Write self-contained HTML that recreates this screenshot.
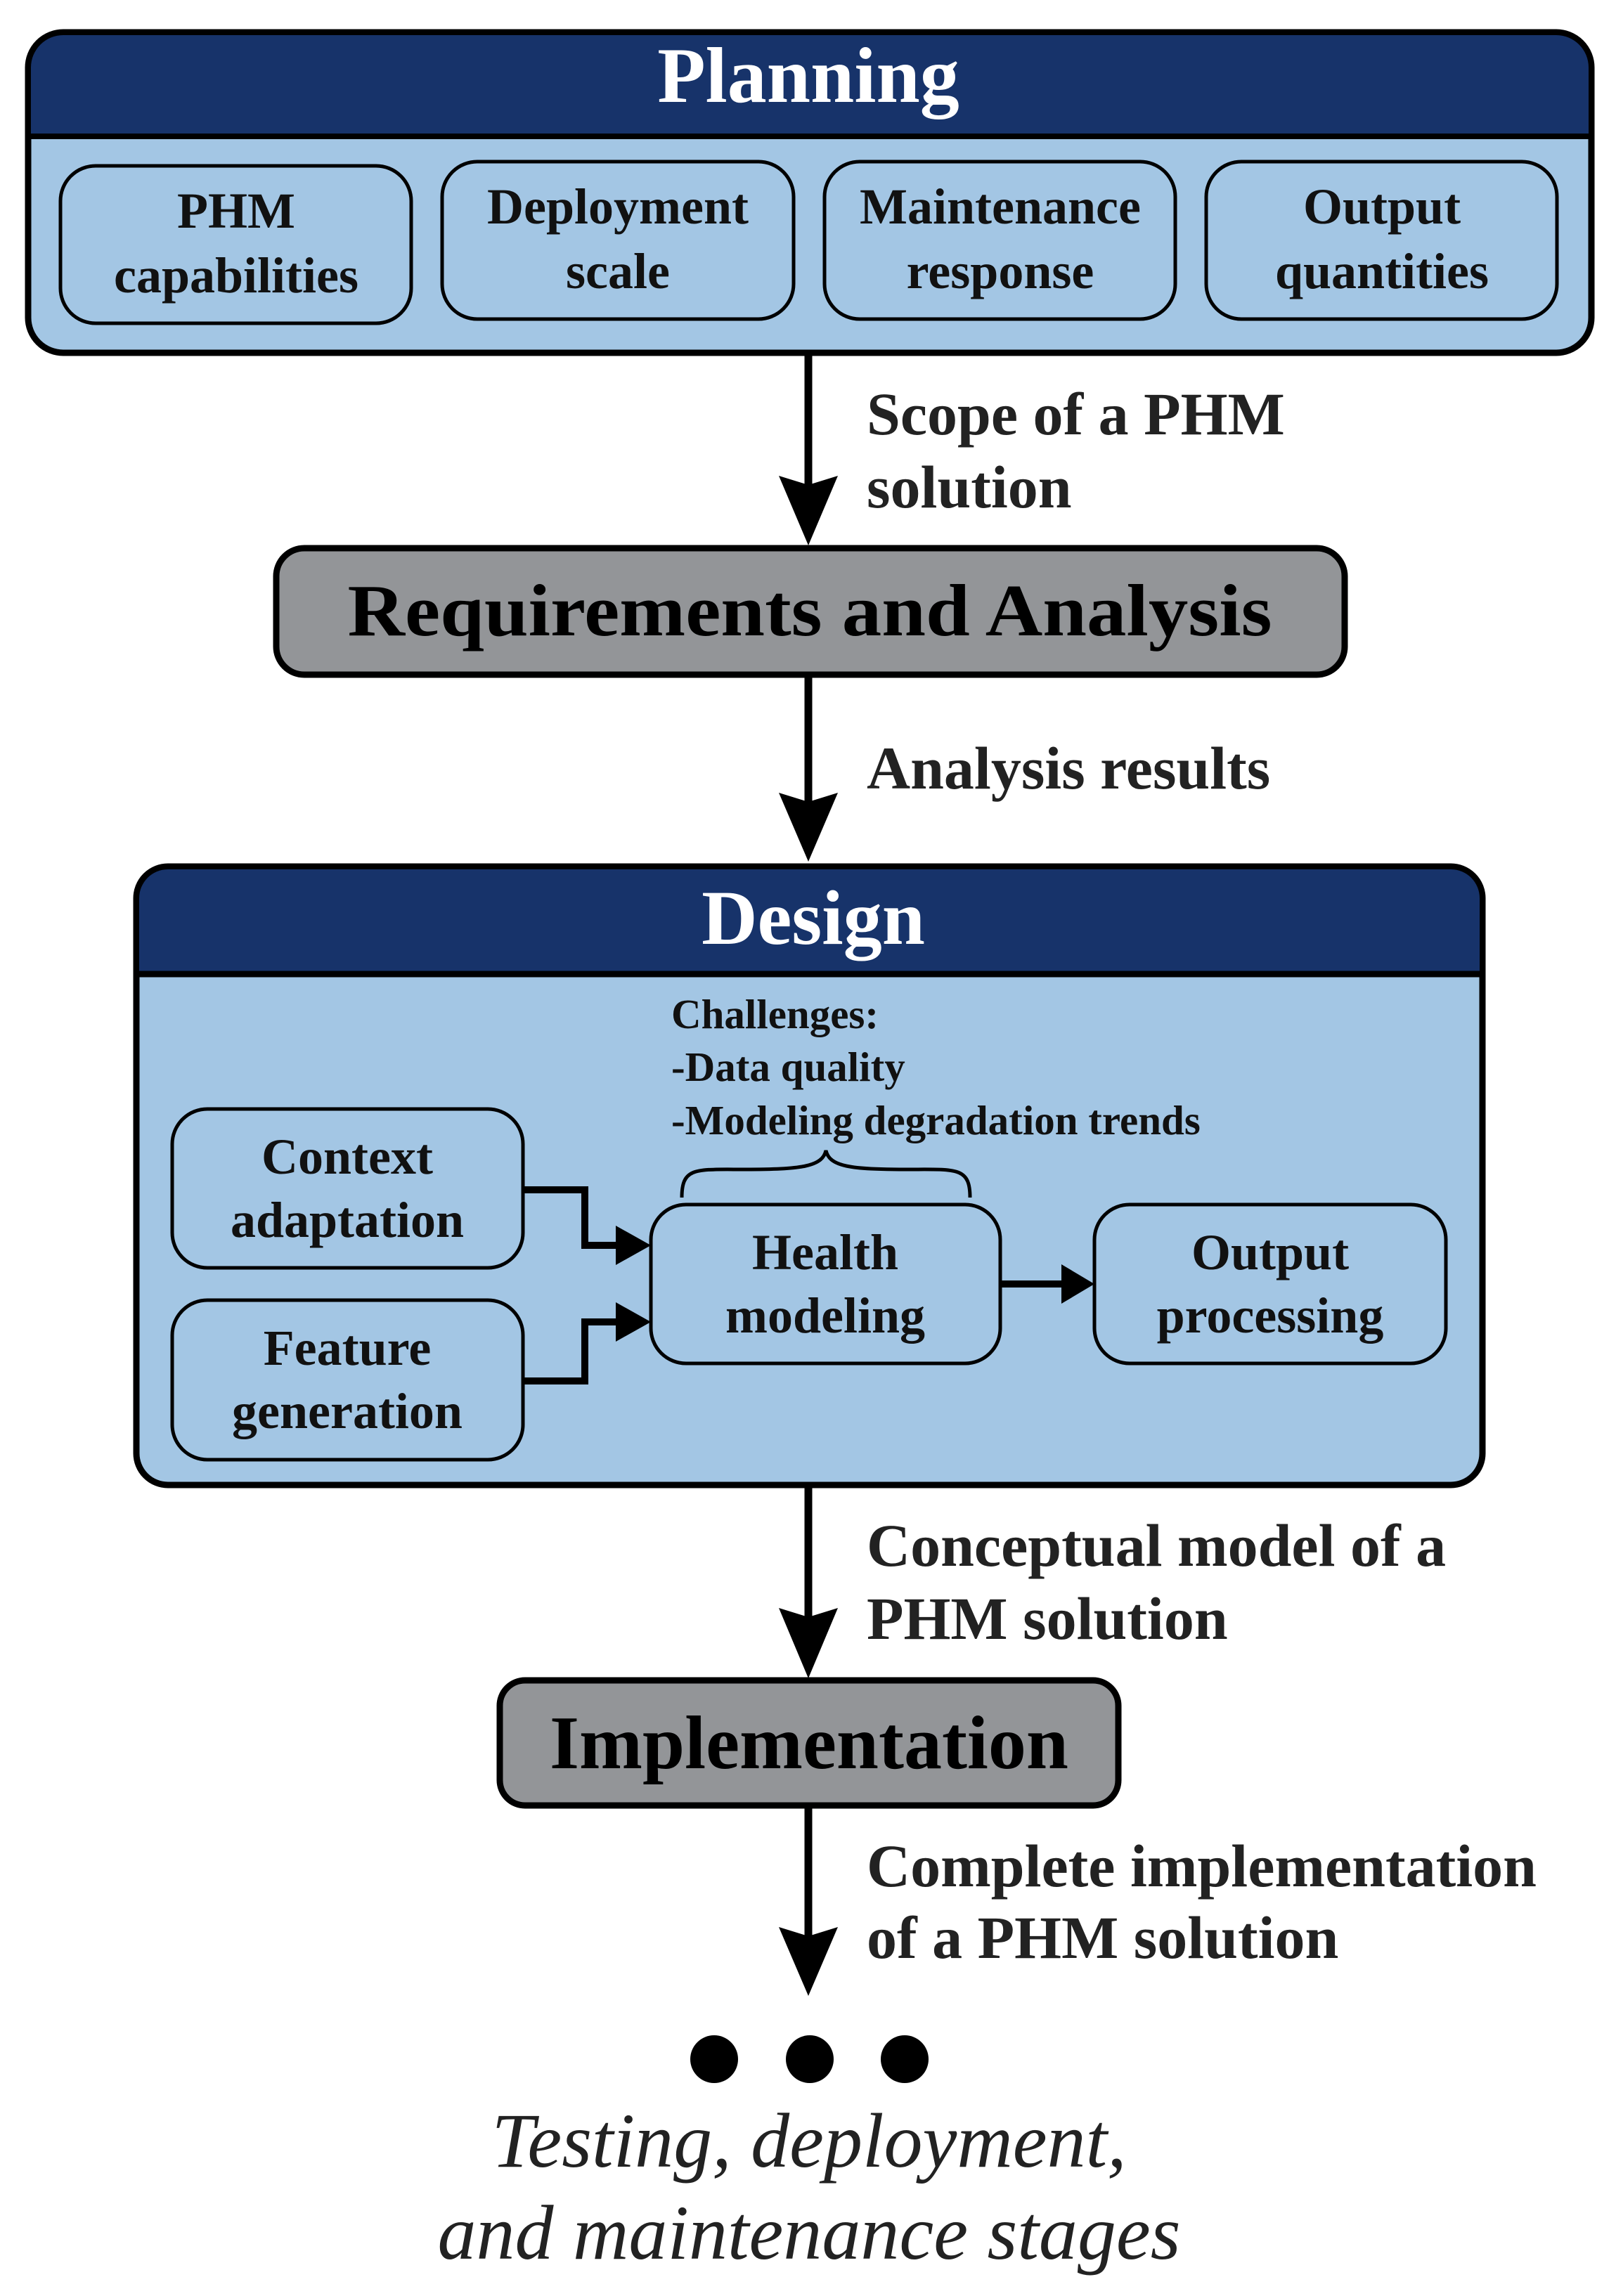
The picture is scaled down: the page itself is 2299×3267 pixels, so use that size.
<!DOCTYPE html>
<html><head><meta charset="utf-8"><style>html,body{margin:0;padding:0;background:#fff}svg{display:block}</style></head>
<body>
<svg width="2299" height="3267" viewBox="0 0 2299 3267" xmlns="http://www.w3.org/2000/svg" font-family="'Liberation Serif', serif" font-weight="bold">
<!-- Planning -->
<rect x="40" y="46" width="2224" height="456" rx="50" fill="#a3c6e4" stroke="#000" stroke-width="9"/>
<path d="M44 192 V96 a46 46 0 0 1 46 -46 H2214 a46 46 0 0 1 46 46 V192 Z" fill="#17336a"/>
<line x1="40" y1="194" x2="2264" y2="194" stroke="#000" stroke-width="8"/>
<text x="1150" y="145" font-size="112" fill="#fff" text-anchor="middle">Planning</text>
<g fill="#a3c6e4" stroke="#000" stroke-width="5">
<rect x="86" y="236" width="499" height="224" rx="50"/>
<rect x="629" y="230" width="500" height="224" rx="50"/>
<rect x="1173" y="230" width="499" height="224" rx="50"/>
<rect x="1716" y="230" width="499" height="224" rx="50"/>
</g>
<g font-size="72" text-anchor="middle" fill="#111">
<text x="336" y="324">PHM</text><text x="336" y="416">capabilities</text>
<text x="879" y="318">Deployment</text><text x="879" y="410">scale</text>
<text x="1423" y="318">Maintenance</text><text x="1423" y="410">response</text>
<text x="1966" y="318">Output</text><text x="1966" y="410">quantities</text>
</g>
<g stroke="#000" stroke-width="11">
<line x1="1150" y1="502" x2="1150" y2="700"/>
<line x1="1150" y1="962" x2="1150" y2="1150"/>
<line x1="1150" y1="2117" x2="1150" y2="2310"/>
<line x1="1150" y1="2571" x2="1150" y2="2765"/>
</g>
<g fill="#000">
<path d="M1108 677 L1150 690 L1192 677 L1150 776 Z"/>
<path d="M1108 1128 L1150 1141 L1192 1128 L1150 1226 Z"/>
<path d="M1108 2288 L1150 2301 L1192 2288 L1150 2388 Z"/>
<path d="M1108 2742 L1150 2755 L1192 2742 L1150 2840 Z"/>
</g>
<g font-size="86" fill="#222">
<text x="1233" y="618">Scope of a PHM</text>
<text x="1233" y="722">solution</text>
<text x="1233" y="1122">Analysis results</text>
<text x="1233" y="2228">Conceptual model of a</text>
<text x="1233" y="2332">PHM solution</text>
<text x="1233" y="2684">Complete implementation</text>
<text x="1233" y="2786">of a PHM solution</text>
</g>
<rect x="393" y="780" width="1520" height="180" rx="40" fill="#939598" stroke="#000" stroke-width="9"/>
<text x="1152" y="904" font-size="105" text-anchor="middle" fill="#000" textLength="1315" lengthAdjust="spacingAndGlyphs">Requirements and Analysis</text>
<!-- Design -->
<rect x="194" y="1233" width="1915" height="880" rx="45" fill="#a3c6e4" stroke="#000" stroke-width="9"/>
<path d="M198 1384 V1278 a41 41 0 0 1 41 -41 H2064 a41 41 0 0 1 41 41 V1384 Z" fill="#17336a"/>
<line x1="194" y1="1386" x2="2109" y2="1386" stroke="#000" stroke-width="9"/>
<text x="1157" y="1343" font-size="110" fill="#fff" text-anchor="middle">Design</text>
<g font-size="59" fill="#111">
<text x="955" y="1463">Challenges:</text>
<text x="955" y="1538">-Data quality</text>
<text x="955" y="1614">-Modeling degradation trends</text>
</g>
<path d="M970 1704 C970 1660 990 1664 1060 1664 C1140 1664 1170 1660 1175 1637 C1180 1660 1210 1664 1290 1664 C1360 1664 1380 1660 1380 1704" fill="none" stroke="#000" stroke-width="5"/>
<g fill="#a3c6e4" stroke="#000" stroke-width="5">
<rect x="245" y="1578" width="499" height="226" rx="50"/>
<rect x="245" y="1850" width="499" height="227" rx="50"/>
<rect x="926" y="1714" width="497" height="226" rx="50"/>
<rect x="1557" y="1714" width="500" height="226" rx="50"/>
</g>
<g fill="none" stroke="#000" stroke-width="10">
<path d="M744 1693 H832 V1772 H885"/>
<path d="M744 1965 H832 V1881 H885"/>
<line x1="1423" y1="1827" x2="1520" y2="1827"/>
</g>
<g fill="#000">
<path d="M876 1744 L926 1772 L876 1800 Z"/>
<path d="M876 1853 L926 1881 L876 1909 Z"/>
<path d="M1510 1799 L1557 1827 L1510 1855 Z"/>
</g>
<g font-size="72" text-anchor="middle" fill="#111">
<text x="494" y="1670">Context</text><text x="494" y="1760">adaptation</text>
<text x="494" y="1942">Feature</text><text x="494" y="2032">generation</text>
<text x="1174" y="1806">Health</text><text x="1174" y="1896">modeling</text>
<text x="1807" y="1806">Output</text><text x="1807" y="1896">processing</text>
</g>
<rect x="711" y="2391" width="880" height="178" rx="36" fill="#939598" stroke="#000" stroke-width="9"/>
<text x="1151" y="2516" font-size="108" text-anchor="middle" fill="#000">Implementation</text>
<circle cx="1016" cy="2930" r="34" fill="#000"/>
<circle cx="1152" cy="2930" r="34" fill="#000"/>
<circle cx="1287" cy="2930" r="34" fill="#000"/>
<g font-size="110" font-weight="normal" font-style="italic" text-anchor="middle" fill="#222">
<text x="1151" y="3083">Testing, deployment,</text>
<text x="1151" y="3214">and maintenance stages</text>
</g>
</svg>
</body></html>
